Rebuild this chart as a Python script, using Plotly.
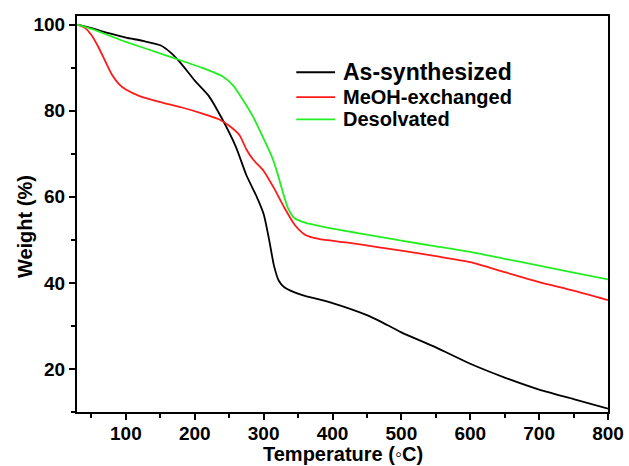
import plotly.graph_objects as go

# TGA curves: temperature (°C) vs. remaining weight (%)
temp_as = [30, 50, 75, 100, 125, 150, 165, 180, 200, 220, 240, 260, 275, 290, 300,
           308, 315, 322, 330, 345, 360, 400, 450, 470, 500, 550, 600, 650, 700, 750, 800]
weight_as = [100, 99.2, 98, 97, 96.2, 95.2, 93.5, 91, 87, 83.5, 78, 71.5, 65, 60, 56,
             50, 44, 40.5, 39, 37.8, 37, 35.3, 32.5, 31, 28.5, 25, 21.2, 18, 15.2, 13, 10.8]

temp_meoh = [30, 40, 50, 60, 70, 80, 90, 100, 120, 150, 180, 210, 235, 250, 265, 275,
             285, 300, 315, 330, 345, 360, 380, 420, 470, 500, 550, 600, 650, 700, 750, 800]
weight_meoh = [100, 99.3, 97.6, 94.8, 91.5, 88.3, 86.2, 84.9, 83.4, 82, 80.8, 79.4, 78,
               76.5, 74.3, 71, 68.6, 66, 62, 57.5, 53.5, 51.2, 50.2, 49.4, 48.2, 47.5,
               46.2, 44.8, 42.5, 40.2, 38.2, 36]

temp_des = [30, 50, 75, 100, 135, 170, 210, 240, 255, 270, 285, 300, 312, 320, 328,
            335, 345, 360, 400, 450, 500, 550, 600, 650, 700, 750, 800]
weight_des = [100, 99, 97.5, 96, 94.1, 92.2, 90, 88, 86, 82.5, 78.5, 73.5, 69.3, 65.5,
              61, 57.5, 55, 54, 52.6, 51.2, 49.8, 48.5, 47.2, 45.6, 44, 42.4, 40.8]

series_names = ["As-synthesized", "MeOH-exchanged", "Desolvated"]
series_colors = ["#000000", "#ff1a1a", "#22ee22"]
x_ticks = [100, 200, 300, 400, 500, 600, 700, 800]
y_ticks = [20, 40, 60, 80, 100]
x_title = "Temperature (◦C)"
y_title = "Weight (%)"

FONT = "Liberation Sans, Arial, sans-serif"

fig = go.Figure()
for name, color, xs, ys in zip(series_names, series_colors,
                               [temp_as, temp_meoh, temp_des],
                               [weight_as, weight_meoh, weight_des]):
    fig.add_trace(go.Scatter(x=xs, y=ys, mode="lines", name=name,
                             line=dict(color=color, width=1.8, shape="spline", smoothing=0.6),
                             showlegend=False))

axis_common = dict(
    showline=True, linecolor="black", linewidth=2.2, mirror=True,
    ticks="outside", ticklen=6, tickwidth=2, tickcolor="black",
    showgrid=False, zeroline=False, automargin=False,
    tickfont=dict(family=FONT, size=19, color="black", weight="bold"),
)

fig.update_xaxes(
    range=[29, 800], tickvals=x_ticks, ticklabelstandoff=-3,
    minor=dict(ticks="outside", ticklen=4, tickwidth=2, tickcolor="black", dtick=50, tick0=0),
    **axis_common,
)
fig.update_yaxes(
    range=[10, 102], tickvals=y_ticks,
    minor=dict(ticks="outside", ticklen=4, tickwidth=2, tickcolor="black", dtick=10, tick0=0),
    **axis_common,
)

# Axis titles placed as free text so they sit close to the tick labels
title_font = dict(family=FONT, size=20, color="black", weight="bold")
fig.add_annotation(xref="paper", yref="paper", x=0.5, y=-0.137,
                   xanchor="center", yanchor="bottom", showarrow=False, borderpad=0,
                   text=x_title, font=title_font)
fig.add_annotation(xref="paper", yref="paper", x=-0.099, y=0.468,
                   xanchor="center", yanchor="middle", showarrow=False, borderpad=0,
                   textangle=-90, text=y_title, font=title_font)

# Hand-placed legend: short line sample followed by the series name
legend_y = [0.858, 0.795, 0.739]
legend_sizes = [23, 20, 20]
for name, color, ly, fs in zip(series_names, series_colors, legend_y, legend_sizes):
    fig.add_shape(type="line", xref="paper", yref="paper",
                  x0=0.413, x1=0.486, y0=ly, y1=ly,
                  line=dict(color=color, width=1.8))
    fig.add_annotation(xref="paper", yref="paper", x=0.497, y=ly,
                       xanchor="left", yanchor="middle", showarrow=False,
                       text=name,
                       font=dict(family=FONT, size=fs, color="black", weight="bold"))

fig.update_layout(
    width=629, height=466,
    margin=dict(l=77, r=21, t=16, b=54),
    plot_bgcolor="white", paper_bgcolor="white",
)

fig.write_html("out.html")
